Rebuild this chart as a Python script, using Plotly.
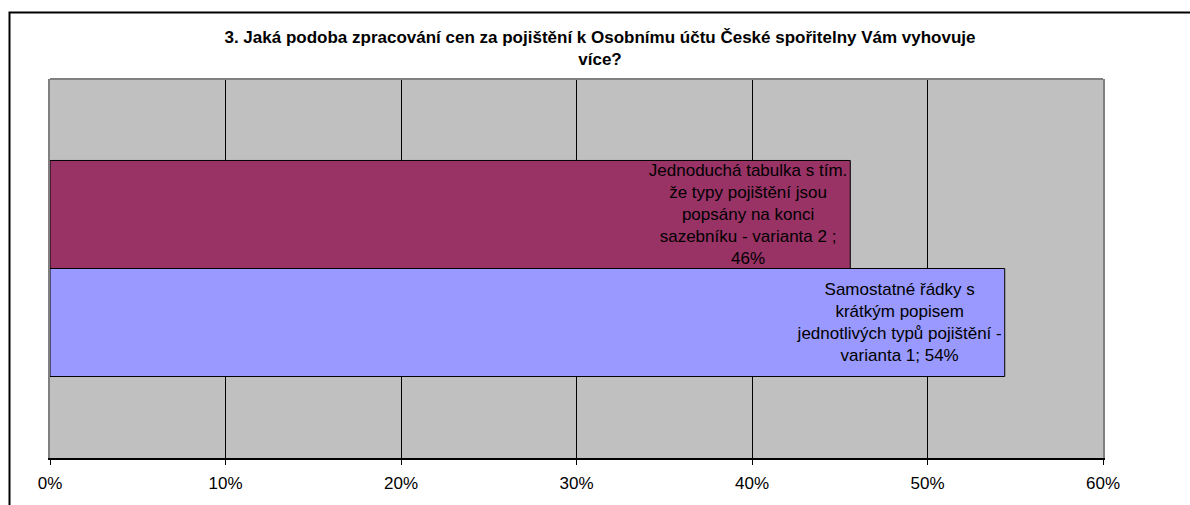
import plotly.graph_objects as go

# Data
category = ["3."]
series_names = ["varianta 1", "varianta 2"]
values = [54.4, 45.6]
labels = [
    "Samostatné řádky s<br>krátkým popisem<br>jednotlivých typů pojištění -<br>varianta 1; 54%",
    "Jednoduchá tabulka s tím.<br>že typy pojištění jsou<br>popsány na konci<br>sazebníku - varianta 2 ;<br>46%",
]
colors = ["#9999FF", "#993366"]
x_ticks = [0, 10, 20, 30, 40, 50, 60]
x_tick_text = ["0%", "10%", "20%", "30%", "40%", "50%", "60%"]
title_text = ("3. Jaká podoba zpracování cen za pojištění k Osobnímu účtu České spořitelny Vám vyhovuje"
              "<br>více?")

FONT = "Arial, Liberation Sans, sans-serif"

fig = go.Figure()
for name, v, lab, col in zip(series_names, values, labels, colors):
    fig.add_trace(go.Bar(
        y=category, x=[v], name=name, orientation="h",
        marker=dict(color=col, line=dict(color="black", width=1)),
        text=[lab], textposition="inside", insidetextanchor="end",
        textangle=0, constraintext="none",
        textfont=dict(family=FONT, size=17, color="black"),
        hoverinfo="skip",
    ))

W, H = 1190, 505
L, R, T, B = 50, 87, 79, 47
pw, ph = W - L - R, H - T - B

fig.update_layout(
    width=W, height=H,
    margin=dict(l=L, r=R, t=T, b=B, pad=0),
    paper_bgcolor="white",
    plot_bgcolor="#C0C0C0",
    barmode="group", bargap=0.43, bargroupgap=0,
    showlegend=False,
    font=dict(family=FONT, size=16, color="black"),
    title=dict(text=title_text, x=600 / W, xanchor="center",
               y=1 - 43 / H, yanchor="middle",
               font=dict(family=FONT, size=17, color="black", weight="bold")),
    xaxis=dict(range=[0, 60], tickvals=x_ticks, ticktext=x_tick_text,
               showgrid=True, gridcolor="black", gridwidth=1,
               zeroline=False, showline=True, linecolor="black", linewidth=1.5,
               ticks="outside", ticklen=5, tickcolor="black",
               ticklabelstandoff=4,
               tickfont=dict(family=FONT, size=17, color="black")),
    yaxis=dict(showticklabels=False, showgrid=False, zeroline=False,
               showline=True, linecolor="#808080", linewidth=2, mirror=True,
               ticks=""),
    shapes=[
        dict(type="line", xref="paper", yref="paper", x0=0, x1=1, y0=1, y1=1,
             line=dict(color="#808080", width=2)),
        dict(type="rect", xref="paper", yref="paper",
             x0=(9.5 - L) / pw, x1=(W + 20 - L) / pw,
             y0=-(B + 20) / ph, y1=(H - B - 12.5) / ph,
             line=dict(color="black", width=2), fillcolor="rgba(0,0,0,0)"),
    ],
)

fig.write_html("out.html", config={"displayModeBar": False},
               post_script="document.body.style.margin='0';document.body.style.overflow='hidden';")
